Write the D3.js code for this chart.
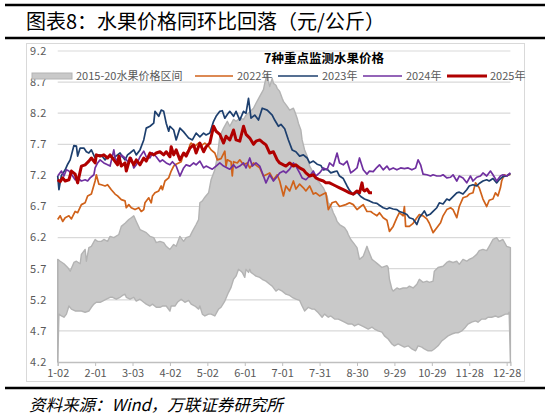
<!DOCTYPE html>
<html>
<head>
<meta charset="utf-8">
<script src="https://cdn.jsdelivr.net/npm/d3@7"></script>
<style>
  body { margin: 0; background: #fff; }
  svg { display: block; }
  text { font-family: "Noto Sans CJK SC", "Noto Sans", sans-serif; }
</style>
</head>
<body>
<svg id="chart"></svg>
<script>
/*=================
=== Data (day index from 1-02, value in yuan/kg)
=================*/
var xTickDays = [0, 30, 60, 90, 120, 150, 180, 210, 240, 270, 300, 330, 360];
var xTickLabels = ['1-02', '2-01', '3-03', '4-02', '5-02', '6-01', '7-01', '7-31', '8-30', '9-29', '10-29', '11-28', '12-28'];
var yTicks = [4.2, 4.7, 5.2, 5.7, 6.2, 6.7, 7.2, 7.7, 8.2, 8.7, 9.2];

var legendNames = ['2015-20水果价格区间', '2022年', '2023年', '2024年', '2025年'];

var bandUpper = [[0,5.85],[2,5.82],[5,5.78],[8,5.72],[10,5.66],[13,5.8],[15,5.82],[18,5.78],[19,5.93],[22,6.01],[23,5.82],[25,6.04],[27,6.06],[30,6.17],[32,6.14],[35,6.14],[37,6.17],[40,6.14],[42,6.22],[45,6.2],[49,6.25],[51,6.38],[54,6.43],[57,6.49],[59,6.52],[61,6.55],[63,6.46],[66,6.33],[69,6.3],[71,6.28],[74,6.22],[77,6.2],[79,6.12],[82,6.14],[85,6.12],[87,6.06],[90,6.01],[93,6.09],[95,6.06],[98,6.22],[101,6.14],[103,6.2],[106,6.22],[108,6.3],[111,6.41],[113,6.49],[114,6.76],[116,6.79],[118,6.85],[121,6.92],[123,7.13],[126,7.29],[128,7.5],[130,7.83],[133,7.96],[136,8.07],[138,7.99],[141,8.1],[143,8.07],[146,8.12],[149,8.1],[151,8.17],[154,8.22],[157,8.28],[159,8.36],[162,8.47],[165,8.58],[166,8.68],[168,8.84],[169,8.71],[170,8.63],[172,8.76],[173,8.68],[175,8.65],[176,8.6],[178,8.55],[180,8.44],[181,8.39],[184,8.31],[186,8.25],[189,8.28],[190,8.23],[192,8.12],[193,8.04],[195,7.93],[196,7.77],[198,7.61],[200,7.51],[202,7.35],[205,7.24],[208,7.13],[210,7.08],[213,7.0],[216,6.87],[217,6.76],[219,6.71],[221,6.6],[223,6.52],[224,6.46],[226,6.41],[230,6.36],[232,6.3],[233,6.25],[235,6.17],[237,6.12],[240,6.04],[242,5.85],[245,5.9],[248,6.06],[249,6.0],[252,5.85],[254,5.82],[257,5.77],[260,5.72],[264,5.75],[265,5.72],[266,5.53],[268,5.37],[269,5.34],[272,5.39],[274,5.37],[277,5.39],[280,5.39],[282,5.42],[285,5.39],[288,5.45],[290,5.53],[293,5.48],[296,5.5],[298,5.48],[301,5.5],[302,5.66],[305,5.72],[309,5.74],[312,5.8],[314,5.82],[317,5.8],[320,5.82],[322,5.77],[325,5.85],[328,5.82],[330,5.85],[333,5.88],[336,5.93],[338,5.99],[341,6.01],[344,5.99],[346,6.06],[349,6.17],[352,6.2],[354,6.14],[357,6.17],[360,6.06],[363,6.04]];

var bandLower = [[0,4.2],[1,4.97],[3,4.94],[5,4.92],[7,4.97],[9,5.1],[11,5.05],[14,5.02],[17,5.02],[19,5.02],[22,5.0],[25,5.02],[27,5.08],[29,5.13],[31,5.16],[34,5.16],[36,5.18],[39,5.21],[42,5.24],[44,5.24],[47,5.21],[50,5.24],[52,5.27],[54,5.29],[55,5.24],[58,5.21],[61,5.24],[63,5.18],[66,5.21],[69,5.16],[71,5.13],[74,5.1],[76,5.13],[79,5.08],[82,5.08],[84,5.1],[87,5.1],[90,5.02],[91,5.1],[94,5.1],[96,5.16],[99,5.21],[102,5.16],[105,5.19],[107,5.13],[110,5.1],[113,5.05],[114,5.1],[116,4.97],[118,4.94],[121,4.97],[123,4.97],[126,4.94],[129,5.05],[131,5.08],[134,5.18],[137,5.32],[139,5.4],[141,5.53],[143,5.58],[145,5.69],[147,5.66],[148,5.64],[150,5.56],[151,5.69],[153,5.64],[154,5.69],[155,5.64],[157,5.61],[159,5.58],[162,5.56],[164,5.53],[167,5.5],[170,5.45],[172,5.42],[175,5.34],[177,5.37],[180,5.34],[183,5.29],[186,5.27],[188,5.24],[191,5.21],[194,5.19],[196,5.1],[198,5.02],[201,5.08],[204,5.05],[206,5.05],[209,4.99],[212,4.92],[214,4.97],[217,4.92],[219,4.94],[222,4.89],[225,4.89],[228,4.86],[230,4.84],[233,4.81],[236,4.81],[238,4.78],[241,4.81],[244,4.78],[246,4.76],[249,4.73],[252,4.76],[254,4.73],[257,4.7],[260,4.68],[262,4.62],[265,4.57],[268,4.49],[270,4.46],[273,4.49],[276,4.46],[278,4.44],[281,4.46],[284,4.41],[287,4.38],[289,4.46],[292,4.44],[294,4.41],[297,4.38],[300,4.38],[302,4.41],[305,4.46],[308,4.54],[310,4.57],[313,4.62],[316,4.65],[319,4.67],[321,4.67],[324,4.7],[327,4.76],[329,4.81],[332,4.84],[335,4.86],[337,4.84],[340,4.89],[343,4.89],[345,4.92],[348,4.92],[351,4.94],[353,4.92],[356,4.94],[359,4.97],[361,4.97],[362,5.0],[363,4.2]];

var price2022 = [[0,6.49],[2,6.55],[4,6.46],[6,6.52],[9,6.55],[11,6.5],[14,6.62],[16,6.6],[19,6.73],[22,6.76],[24,6.87],[27,6.9],[30,7.11],[31,7.21],[33,7.06],[35,7.05],[38,7.03],[40,7.05],[43,6.97],[46,6.9],[48,6.87],[51,6.81],[54,6.79],[55,6.68],[57,6.73],[59,6.68],[62,6.65],[65,6.68],[67,6.62],[69,6.65],[70,6.76],[73,6.84],[75,6.76],[76,6.87],[78,6.92],[81,6.95],[83,7.03],[84,6.97],[86,7.11],[89,7.16],[91,7.27],[93,7.35],[94,7.37],[97,7.4],[99,7.42],[101,7.56],[102,7.53],[105,7.61],[106,7.69],[107,7.72],[110,7.67],[113,7.72],[116,7.69],[118,7.72],[121,7.67],[123,7.61],[126,7.56],[128,7.45],[131,7.47],[134,7.59],[135,7.35],[136,7.45],[139,7.42],[140,7.19],[141,7.42],[144,7.4],[146,7.45],[149,7.37],[152,7.4],[154,7.32],[157,7.4],[160,7.35],[162,7.32],[165,7.19],[168,7.22],[170,7.24],[173,7.13],[176,7.21],[178,7.11],[181,6.87],[183,7.03],[186,6.95],[189,7.11],[191,6.98],[194,7.06],[197,7.0],[199,6.95],[202,7.03],[205,6.9],[207,6.92],[210,6.87],[213,6.9],[215,6.92],[217,6.65],[220,6.76],[223,6.78],[226,6.7],[231,6.73],[234,6.76],[237,6.73],[240,6.65],[243,6.7],[245,6.73],[248,6.62],[251,6.62],[253,6.59],[256,6.55],[258,6.6],[261,6.52],[264,6.48],[266,6.3],[269,6.38],[272,6.52],[274,6.6],[277,6.55],[278,6.7],[279,6.38],[282,6.38],[285,6.43],[288,6.52],[290,6.57],[293,6.55],[296,6.5],[298,6.43],[301,6.28],[304,6.36],[307,6.44],[309,6.55],[312,6.65],[315,6.68],[317,6.65],[320,6.52],[322,6.7],[325,6.84],[328,6.86],[330,6.9],[333,6.92],[335,7.08],[338,7.0],[341,6.82],[344,6.7],[346,6.8],[349,6.82],[351,6.92],[353,6.87],[355,7.0],[356,7.11],[358,7.21],[360,7.19],[363,7.22]];

var price2023 = [[0,7.19],[1,6.97],[3,7.2],[6,7.29],[8,7.38],[10,7.45],[13,7.68],[15,7.67],[16,7.51],[18,7.64],[21,7.64],[23,7.58],[25,7.56],[27,7.61],[30,7.48],[32,7.52],[34,7.53],[36,7.5],[38,7.45],[40,7.5],[42,7.51],[44,7.47],[46,7.5],[48,7.53],[50,7.56],[52,7.5],[54,7.45],[56,7.53],[58,7.56],[61,7.61],[63,7.53],[66,7.61],[69,7.77],[71,7.96],[74,7.99],[77,8.04],[78,8.23],[81,8.15],[83,8.25],[85,8.23],[87,8.04],[89,7.91],[90,7.99],[93,7.93],[95,7.77],[98,7.96],[101,7.9],[103,7.85],[105,7.8],[108,7.77],[111,7.88],[114,7.82],[117,7.88],[119,7.85],[122,7.88],[125,8.07],[127,8.15],[130,8.23],[132,8.24],[134,8.12],[136,8.18],[138,8.23],[141,8.15],[143,8.23],[146,8.09],[149,8.23],[151,8.2],[153,8.44],[155,8.12],[158,8.17],[161,8.09],[164,8.28],[168,8.25],[172,8.17],[174,8.09],[177,7.99],[179,8.02],[182,7.95],[185,7.77],[188,7.61],[191,7.58],[194,7.51],[197,7.53],[200,7.48],[202,7.4],[205,7.43],[208,7.38],[211,7.36],[213,7.29],[216,7.3],[219,7.24],[222,7.26],[224,7.27],[226,7.19],[229,7.15],[232,7.03],[234,6.96],[237,6.89],[240,6.93],[243,6.86],[246,6.82],[250,6.79],[253,6.76],[256,6.75],[258,6.72],[261,6.68],[264,6.66],[266,6.68],[269,6.66],[272,6.65],[274,6.62],[277,6.6],[280,6.57],[282,6.52],[285,6.5],[288,6.41],[290,6.52],[293,6.6],[294,6.63],[296,6.55],[299,6.58],[301,6.62],[304,6.68],[306,6.76],[309,6.74],[312,6.82],[314,6.8],[317,6.86],[320,6.92],[322,6.93],[325,6.9],[328,6.97],[330,7.03],[333,7.05],[336,7.03],[338,7.07],[341,7.11],[344,7.13],[346,7.11],[349,7.15],[352,7.08],[354,7.13],[357,7.18],[360,7.19],[363,7.23]];

var price2024 = [[0,7.19],[3,7.27],[5,7.19],[7,7.29],[9,7.27],[11,7.22],[14,7.13],[16,7.16],[19,7.11],[22,7.13],[24,7.11],[26,7.16],[29,7.21],[30,7.32],[32,7.4],[34,7.45],[37,7.4],[40,7.37],[42,7.35],[45,7.61],[46,7.48],[49,7.4],[51,7.53],[54,7.48],[57,7.4],[59,7.48],[61,7.32],[63,7.37],[66,7.5],[69,7.59],[71,7.5],[74,7.48],[76,7.56],[79,7.5],[82,7.42],[84,7.45],[87,7.4],[90,7.37],[92,7.42],[95,7.35],[98,7.19],[101,7.32],[103,7.37],[106,7.35],[109,7.4],[111,7.37],[114,7.43],[117,7.32],[119,7.35],[122,7.32],[124,7.3],[127,7.35],[130,7.4],[133,7.35],[136,7.32],[138,7.3],[141,7.37],[143,7.32],[146,7.35],[149,7.4],[151,7.32],[154,7.48],[156,7.35],[159,7.4],[162,7.35],[165,7.19],[167,7.08],[170,7.21],[173,7.11],[175,7.16],[178,7.24],[181,7.27],[183,7.24],[186,7.3],[189,7.4],[191,7.35],[194,7.24],[196,7.16],[199,7.13],[202,7.19],[205,7.27],[207,7.19],[210,7.24],[213,7.32],[216,7.29],[218,7.4],[221,7.35],[224,7.56],[226,7.4],[229,7.37],[232,7.43],[235,7.24],[237,7.27],[240,7.32],[242,7.48],[245,7.29],[248,7.22],[250,7.27],[253,7.26],[256,7.33],[258,7.37],[261,7.29],[264,7.35],[266,7.29],[269,7.32],[272,7.29],[275,7.32],[278,7.31],[281,7.32],[284,7.29],[287,7.32],[289,7.45],[291,7.37],[293,7.22],[296,7.21],[299,7.19],[301,7.21],[304,7.19],[307,7.19],[309,7.21],[312,7.16],[315,7.17],[317,7.21],[320,7.11],[322,7.19],[325,7.16],[328,7.08],[331,7.19],[333,7.11],[336,7.17],[339,7.19],[341,7.24],[344,7.19],[347,7.27],[349,7.21],[352,7.11],[355,7.19],[357,7.21],[360,7.19],[363,7.24]];

var price2025 = [[0,7.13],[2,7.1],[4,7.16],[6,7.11],[9,7.13],[11,7.27],[14,7.22],[16,7.08],[19,7.35],[22,7.37],[25,7.43],[27,7.48],[30,7.4],[31,7.53],[34,7.51],[37,7.53],[40,7.48],[42,7.53],[45,7.45],[48,7.37],[49,7.51],[51,7.35],[54,7.4],[55,7.27],[58,7.48],[61,7.37],[63,7.45],[66,7.37],[69,7.48],[71,7.43],[74,7.56],[77,7.53],[79,7.56],[82,7.58],[85,7.53],[87,7.58],[90,7.5],[91,7.66],[93,7.53],[95,7.61],[98,7.45],[101,7.56],[103,7.51],[106,7.64],[109,7.69],[111,7.56],[114,7.72],[117,7.58],[119,7.66],[122,7.72],[125,7.99],[127,7.91],[130,7.86],[133,7.72],[135,7.83],[138,7.77],[141,7.93],[143,7.77],[146,7.75],[149,7.99],[151,7.86],[154,7.8],[157,7.7],[159,7.75],[162,7.77],[165,7.72],[167,7.69],[170,7.56],[173,7.58],[176,7.45],[178,7.4],[181,7.37],[183,7.35],[186,7.4],[189,7.35],[191,7.37],[194,7.32],[197,7.29],[199,7.24],[202,7.19],[205,7.21],[207,7.16],[210,7.13],[213,7.11],[215,7.08],[218,7.08],[221,7.05],[223,7.03],[226,7.0],[229,6.97],[231,6.95],[234,6.92],[237,6.9],[240,6.95],[242,6.92],[244,7.08],[245,6.97],[246,6.95],[248,6.98],[250,6.92],[252,6.92]];

/*=================
=== Setup
=================*/
var W = 545, H = 419;
var svg = d3.select('#chart').attr('width', W).attr('height', H);
svg.append('rect').attr('width', W).attr('height', H).attr('fill', '#fff');

var x = d3.scaleLinear().domain([0, 363]).range([57.7, 510.4]);
var y = d3.scaleLinear().domain([4.2, 9.2]).range([362, 51]);

// header / footer rules
svg.append('line').attr('x1', 5).attr('x2', 545).attr('y1', 5).attr('y2', 5)
	.attr('stroke', '#000').attr('stroke-width', 2.5);
svg.append('line').attr('x1', 5).attr('x2', 545).attr('y1', 38).attr('y2', 38)
	.attr('stroke', '#000').attr('stroke-width', 2.5);
svg.append('line').attr('x1', 5).attr('x2', 545).attr('y1', 388).attr('y2', 388)
	.attr('stroke', '#000').attr('stroke-width', 2.5);

svg.append('text')
	.attr('x', 26).attr('y', 29)
	.attr('font-size', 20).attr('fill', '#000')
	.text('图表8：水果价格同环比回落（元/公斤）');

svg.append('text')
	.attr('x', 29).attr('y', 411)
	.attr('font-size', 16.5).attr('font-style', 'italic').attr('fill', '#000')
	.text('资料来源：Wind，万联证券研究所');

// chart frame
svg.append('rect')
	.attr('x', 26.5).attr('y', 43.5).attr('width', 498).attr('height', 338)
	.attr('fill', 'none').attr('stroke', '#d9d9d9');

/*=================
=== Grid + axes
=================*/
svg.append('g').selectAll('line')
	.data(yTicks.slice(1))
	.enter().append('line')
	.attr('x1', x(0)).attr('x2', x(363))
	.attr('y1', d => y(d)).attr('y2', d => y(d))
	.attr('stroke', '#d9d9d9').attr('stroke-width', 1.2);

svg.append('g').selectAll('text')
	.data(yTicks)
	.enter().append('text')
	.attr('x', 47).attr('y', d => y(d)).attr('dy', '0.35em')
	.attr('text-anchor', 'end')
	.attr('font-size', 11).attr('fill', '#595959')
	.attr('letter-spacing', 0.6)
	.text(d => d.toFixed(1));

var xAxis = d3.axisBottom(x)
	.tickValues(xTickDays)
	.tickFormat((d, i) => xTickLabels[i])
	.tickSize(4)
	.tickPadding(3);

var gx = svg.append('g').attr('transform', `translate(0,${y(4.2)})`).call(xAxis);
gx.select('.domain').attr('stroke', '#bfbfbf').attr('stroke-width', 1.3);
gx.selectAll('.tick line').attr('stroke', '#bfbfbf');
gx.selectAll('.tick text').attr('font-size', 11).attr('fill', '#595959')
	.attr('font-family', '"Noto Sans CJK SC", sans-serif');

/*=================
=== Band + lines
=================*/
var pathLine = d3.line()
	.x(d => x(d[0]))
	.y(d => y(d[1]));

// band polygon: upper forward, lower backward
svg.append('path')
	.attr('d', pathLine(bandUpper.concat(bandLower.slice().reverse())) + 'Z')
	.attr('fill', '#c9c9c9')
	.attr('stroke', '#b3b3b3')
	.attr('stroke-width', 1.4)
	.attr('stroke-linejoin', 'round');

// left edge drops to the axis
svg.append('line')
	.attr('x1', x(0)).attr('x2', x(0))
	.attr('y1', y(bandUpper[0][1])).attr('y2', y(4.2))
	.attr('stroke', '#b3b3b3').attr('stroke-width', 1.4);

var series = [
	{ data: price2022, color: '#d0621a', width: 1.7 },
	{ data: price2023, color: '#1d3f6e', width: 1.7 },
	{ data: price2024, color: '#7030a0', width: 1.7 },
	{ data: price2025, color: '#b00000', width: 3 }
];

svg.append('g').selectAll('path')
	.data(series)
	.enter().append('path')
	.attr('d', d => pathLine(d.data))
	.attr('fill', 'none')
	.attr('stroke', d => d.color)
	.attr('stroke-width', d => d.width)
	.attr('stroke-linejoin', 'round');

/*=================
=== Legend
=================*/
svg.append('text')
	.attr('x', 324).attr('y', 59).attr('dy', '0.35em')
	.attr('text-anchor', 'middle')
	.attr('font-size', 12.5).attr('font-weight', 'bold').attr('fill', '#000')
	.text('7种重点监测水果价格');

var legY = 76;
var legend = svg.append('g').attr('font-size', 11).attr('fill', '#595959');

legend.append('rect')
	.attr('x', 32).attr('y', legY - 3).attr('width', 40).attr('height', 6)
	.attr('fill', '#c9c9c9').attr('stroke', '#b3b3b3');

var legLines = [
	{ x1: 195, x2: 233, tx: 237 },
	{ x1: 278, x2: 318, tx: 322 },
	{ x1: 363, x2: 402, tx: 406 },
	{ x1: 447, x2: 487, tx: 490 }
];

legend.selectAll('line')
	.data(legLines)
	.enter().append('line')
	.attr('x1', d => d.x1).attr('x2', d => d.x2)
	.attr('y1', legY).attr('y2', legY)
	.attr('stroke', (d, i) => series[i].color)
	.attr('stroke-width', (d, i) => series[i].width);

legend.selectAll('text')
	.data([76].concat(legLines.map(d => d.tx)))
	.enter().append('text')
	.attr('x', d => d).attr('y', legY).attr('dy', '0.35em')
	.text((d, i) => legendNames[i]);
</script>
</body>
</html>
